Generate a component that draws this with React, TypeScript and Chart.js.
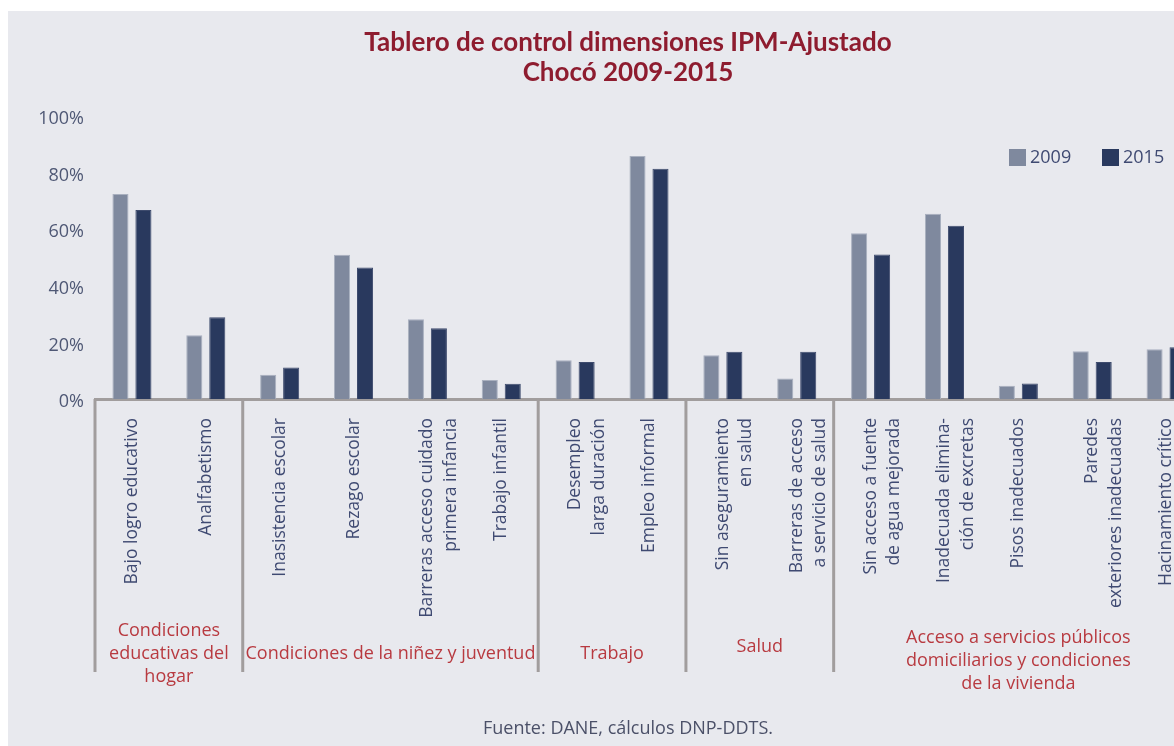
import React, { useEffect, useRef } from "react";
import { Chart, registerables } from "chart.js";

Chart.register(...registerables);

// ---------- data ----------
const categories: (string | string[])[] = [
  "Bajo logro educativo",
  "Analfabetismo",
  "Inasistencia escolar",
  "Rezago escolar",
  ["Barreras acceso cuidado", "primera infancia"],
  "Trabajo infantil",
  ["Desempleo", "larga duración"],
  "Empleo informal",
  ["Sin aseguramiento", "en salud"],
  ["Barreras de acceso", "a servicio de salud"],
  ["Sin acceso a fuente", "de agua mejorada"],
  ["Inadecuada elimina-", "ción de excretas"],
  "Pisos inadecuados",
  ["Paredes", "exteriores inadecuadas"],
  "Hacinamiento crítico",
];

const values2009 = [72.4, 22.5, 8.6, 51.0, 28.2, 6.7, 13.7, 85.9, 15.5, 7.2, 58.6, 65.5, 4.7, 16.9, 17.6];
const values2015 = [66.8, 28.9, 11.1, 46.5, 25.0, 5.4, 13.1, 81.4, 16.7, 16.7, 51.1, 61.2, 5.5, 13.1, 18.3];

const seriesNames = ["2009", "2015"];

const groupNames: string[][] = [
  ["Condiciones", "educativas del", "hogar"],
  ["Condiciones de la niñez y juventud"],
  ["Trabajo"],
  ["Salud"],
  ["Acceso a servicios públicos", "domiciliarios y condiciones", "de la vivienda"],
];
const groupSizes = [2, 4, 2, 2, 5];

const yTickLabels = ["0%", "20%", "40%", "60%", "80%", "100%"];

const titleLines = ["Tablero de control dimensiones IPM-Ajustado", "Chocó 2009-2015"];
const sourceNote = "Fuente: DANE, cálculos DNP-DDTS.";

// ---------- styles ----------
const BG = "#e8e9ee";
const COLOR_2009 = "#7f899e";
const COLOR_2015 = "#29395e";
const TITLE_COLOR = "#8e1c2f";
const GROUP_COLOR = "#b83a40";
const LABEL_COLOR = "#3f4a72";
const AXIS_COLOR = "#a19d9d";
const FONT = "'Open Sans'";
const TITLE_FONT = "Lato";
const groupLabelCenterY = [643, 643, 643, 636, 650];

const decorPlugin = {
  id: "decor",
  afterDraw(chart: any) {
    const { ctx, chartArea } = chart;
    const x = chart.scales.x;
    ctx.save();

    // title
    ctx.fillStyle = TITLE_COLOR;
    ctx.font = `bold 26px ${TITLE_FONT}`;
    ctx.textAlign = "center";
    ctx.textBaseline = "middle";
    const cx = chart.width / 2;
    titleLines.forEach((t, i) => ctx.fillText(t, cx, 32 + i * 30));

    // group separators
    const half = (x.getPixelForValue(1) - x.getPixelForValue(0)) / 2;
    const bounds: number[] = [x.getPixelForValue(0) - half];
    let idx = 0;
    groupSizes.forEach((n) => {
      idx += n;
      bounds.push(x.getPixelForValue(idx - 1) + half);
    });
    ctx.strokeStyle = AXIS_COLOR;
    ctx.lineWidth = 3;
    bounds.forEach((b) => {
      ctx.beginPath();
      ctx.moveTo(b, chartArea.bottom);
      ctx.lineTo(b, 661);
      ctx.stroke();
    });

    // group labels
    ctx.fillStyle = GROUP_COLOR;
    ctx.font = `18px ${FONT}`;
    const lh = 23;
    groupNames.forEach((lines, gi) => {
      const gx = (bounds[gi] + bounds[gi + 1]) / 2;
      const cy = groupLabelCenterY[gi];
      const y0 = cy - ((lines.length - 1) * lh) / 2;
      lines.forEach((l, li) => ctx.fillText(l, gx, y0 + li * lh));
    });

    // legend
    const colors = [COLOR_2009, COLOR_2015];
    const legendX = [chartArea.right - 194, chartArea.right - 101];
    ctx.font = `18px ${FONT}`;
    ctx.textAlign = "left";
    seriesNames.forEach((s, i) => {
      ctx.fillStyle = colors[i];
      ctx.fillRect(legendX[i], 138, 17, 17);
      ctx.fillStyle = LABEL_COLOR;
      ctx.fillText(s, legendX[i] + 21, 147);
    });

    // source
    ctx.textAlign = "center";
    ctx.fillStyle = "#4b5068";
    ctx.font = `18px ${FONT}`;
    ctx.fillText(sourceNote, cx, 718);

    ctx.restore();
  },
};

export default function App() {
  const ref = useRef<HTMLCanvasElement>(null);

  useEffect(() => {
    if (!ref.current) return;
    const chart = new Chart(ref.current, {
      type: "bar",
      data: {
        labels: categories,
        datasets: [
          {
            label: seriesNames[0],
            data: values2009,
            backgroundColor: COLOR_2009,
            borderColor: "#a9b0bf",
            borderWidth: 1,
            categoryPercentage: 0.622,
            barPercentage: 0.7,
          },
          {
            label: seriesNames[1],
            data: values2015,
            backgroundColor: COLOR_2015,
            borderColor: "#3e4b6d",
            borderWidth: 1,
            categoryPercentage: 0.622,
            barPercentage: 0.7,
          },
        ],
      },
      options: {
        animation: false,
        responsive: false,
        devicePixelRatio: 1,
        layout: { padding: { top: 105, right: 45, left: 0, bottom: 0 } },
        plugins: {
          legend: { display: false },
          title: { display: false },
          tooltip: { enabled: false },
        },
        scales: {
          x: {
            grid: { display: false },
            border: { display: true, color: AXIS_COLOR, width: 3 },
            ticks: {
              autoSkip: false,
              minRotation: 90,
              maxRotation: 90,
              padding: 11,
              color: LABEL_COLOR,
              font: { family: FONT, size: 17.5, lineHeight: 1.35 },
            },
            afterFit: (s: any) => {
              s.height = 347;
            },
          },
          y: {
            min: 0,
            max: 100,
            grid: { display: false },
            border: { display: false },
            ticks: {
              stepSize: 20,
              padding: 3,
              labelOffset: 3,
              color: "#4f5875",
              font: { family: FONT, size: 18 },
              callback: (_v: any, i: number) => yTickLabels[i],
            },
            afterFit: (s: any) => {
              s.width = 87;
            },
          },
        },
      },
      plugins: [decorPlugin],
    });
    return () => chart.destroy();
  }, []);

  return (
    <div
      style={{
        position: "fixed",
        left: 8,
        top: 11,
        width: 1166,
        height: 735,
        overflow: "hidden",
        background: BG,
      }}
    >
      <canvas ref={ref} width={1240} height={735} style={{ display: "block", width: 1240, height: 735 }} />
    </div>
  );
}
